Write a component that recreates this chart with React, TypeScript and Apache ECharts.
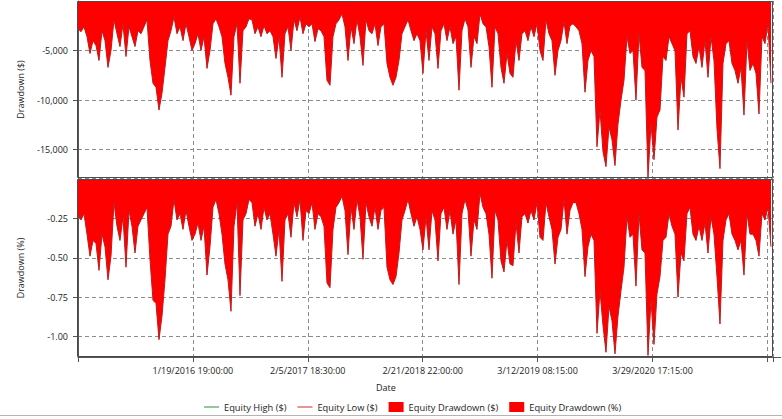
import React, { useEffect, useRef } from "react";
import * as echarts from "echarts";

const xTickLabels = [
  "",
  "1/19/2016 19:00:00",
  "2/5/2017 18:30:00",
  "2/21/2018 22:00:00",
  "3/12/2019 08:15:00",
  "3/29/2020 17:15:00",
  "",
];

const legendNames = ["Equity High ($)", "Equity Low ($)", "Equity Drawdown ($)", "Equity Drawdown (%)"];

const equityHigh: number[] = [];
const equityLow: number[] = [];

const drawdownUsd = [
  -2800, -3100, -2600, -3600, -5300, -4000, -4500, -6000, -3000, -4000, -6700, -5000, -1900, -3300, -4600, -2300,
  -5600, -2600, -3600, -4600, -3000, -3300, -2600, -1900, -6000, -8300, -8700, -11000, -9300, -6700, -4000, -3000,
  -1600, -3300, -2600, -4000, -2300, -3600, -5000,
  -4300, -3300, -5000, -3600, -6800, -5000, -2300, -1800, -2600, -3600, -6300, -7700, -9500, -3600, -2300, -8300,
  -3000, -2600, -1800, -1900, -3300, -2600, -3600, -2500, -3300, -3000, -3600, -5800, -3600, -7700, -3300, -2600,
  -5000, -1900, -3000, -1600, -3300, -2300, -2600,
  -2300, -4100, -2800, -3000, -3600, -8000, -8500, -3600, -2300, -1900, -1300, -2600, -6000, -2600, -4300, -1900,
  -3600, -6500, -1900, -3000, -3300, -2300, -4500, -2600, -2300, -6300, -7700, -8500, -7700, -6000, -3300, -2600,
  -1900, -3000, -4000, -3300, -4000, -7300,
  -3000, -6000, -2600, -3300, -6800, -3000, -2300, -4000, -2600, -4300, -3600, -9000, -3000, -1800, -2600, -6700,
  -3600, -4300, -1300, -2300, -2600, -4600, -8700, -2600, -3300, -6700, -8300, -5300, -7300, -7700, -4000, -6000,
  -3300, -3000, -4000, -2600, -3600, -2300, -5000,
  -6000, -1900, -3300, -4000, -7500, -5000, -4000, -2100, -4300, -2500, -2300, -2600, -3000, -4300, -9200, -6000,
  -5000, -5600, -14700, -11000, -15200, -16700, -12700, -14000, -16600, -12400, -10000, -8000, -3600, -5300, -5000,
  -10000, -3300, -6700, -7000, -17800, -12400, -16000, -11700,
  -11000, -5600, -6000, -3600, -4300, -5000, -13000, -7700, -9700, -3300, -3000, -5600, -6300, -4600, -6700, -4000,
  -7700, -3600, -6000, -12900, -16900, -6300, -4300, -4000, -6300, -7000, -8300, -6700, -11500, -4000, -7000, -6300,
  -7300, -11400, -3600, -4300, -2300, -8300,
];

const drawdownPct = [
  -0.23, -0.26, -0.22, -0.35, -0.49, -0.39, -0.41, -0.58, -0.35, -0.43, -0.64, -0.49, -0.15, -0.3, -0.39, -0.24,
  -0.56, -0.2, -0.3, -0.47, -0.3, -0.26, -0.22, -0.18, -0.51, -0.77, -0.79, -1.02, -0.87, -0.64, -0.35, -0.3,
  -0.13, -0.26, -0.22, -0.32, -0.2, -0.3, -0.39,
  -0.35, -0.28, -0.39, -0.3, -0.61, -0.43, -0.18, -0.13, -0.22, -0.35, -0.54, -0.64, -0.84, -0.3, -0.15, -0.74,
  -0.26, -0.22, -0.13, -0.15, -0.3, -0.22, -0.32, -0.18, -0.26, -0.22, -0.35, -0.49, -0.32, -0.65, -0.26, -0.22,
  -0.37, -0.15, -0.24, -0.13, -0.39, -0.2, -0.22,
  -0.15, -0.32, -0.22, -0.24, -0.3, -0.66, -0.69, -0.32, -0.18, -0.15, -0.11, -0.2, -0.48, -0.18, -0.32, -0.13,
  -0.24, -0.51, -0.15, -0.24, -0.3, -0.18, -0.32, -0.2, -0.18, -0.56, -0.64, -0.67, -0.62, -0.47, -0.26, -0.2,
  -0.13, -0.22, -0.3, -0.24, -0.32, -0.45,
  -0.24, -0.45, -0.2, -0.26, -0.52, -0.22, -0.18, -0.32, -0.2, -0.35, -0.26, -0.67, -0.22, -0.13, -0.2, -0.49,
  -0.26, -0.32, -0.09, -0.18, -0.22, -0.35, -0.63, -0.2, -0.26, -0.52, -0.59, -0.39, -0.54, -0.55, -0.28, -0.47,
  -0.24, -0.22, -0.28, -0.2, -0.26, -0.15, -0.37,
  -0.39, -0.15, -0.24, -0.32, -0.54, -0.37, -0.32, -0.13, -0.35, -0.2, -0.15, -0.15, -0.22, -0.32, -0.62, -0.43,
  -0.35, -0.39, -0.98, -0.71, -0.93, -1.1, -0.81, -0.9, -1.11, -0.87, -0.71, -0.56, -0.24, -0.37, -0.35, -0.68,
  -0.22, -0.45, -0.47, -1.12, -0.77, -1.05, -0.73,
  -0.62, -0.39, -0.37, -0.22, -0.3, -0.35, -0.75, -0.47, -0.52, -0.22, -0.18, -0.35, -0.39, -0.3, -0.39, -0.28,
  -0.47, -0.24, -0.35, -0.62, -0.92, -0.39, -0.26, -0.22, -0.35, -0.39, -0.45, -0.39, -0.61, -0.22, -0.35, -0.35,
  -0.39, -0.49, -0.22, -0.26, -0.18, -0.43,
];

const TICK_STEP = 38.3;
const X_MAX = 231.67;

const FONT = "'Open Sans', 'Noto Sans', sans-serif";
const TEXT = "#222";
const AXIS = "#555";
const LINE_ICON = "path://M0,0H15V1H0Z";

export default function App() {
  const ref = useRef<HTMLDivElement>(null);

  useEffect(() => {
    if (!ref.current) return;
    const chart = echarts.init(ref.current, undefined, { renderer: "svg" });

    const split = { show: true, lineStyle: { color: "#8c8c8c", type: [4, 3], width: 1 } };
    const xLabel = (v: number) => {
      const k = Math.round(v / TICK_STEP);
      return Math.abs(v - k * TICK_STEP) < 0.01 ? xTickLabels[k] ?? "" : "";
    };
    const xBase = {
      type: "value" as const,
      min: 0,
      max: X_MAX,
      interval: TICK_STEP,
      splitLine: split,
    };

    const L = 78, R = 9;
    const W = 782 - L - R;

    chart.setOption({
      animation: false,
      backgroundColor: "#fff",
      textStyle: { fontFamily: FONT },
      grid: [
        { left: L, right: R, top: 1, height: 177 },
        { left: L, right: R, top: 179, height: 178 },
      ],
      xAxis: [
        {
          ...xBase,
          gridIndex: 0,
          axisLine: { show: false },
          axisTick: { show: false },
          axisLabel: { show: false },
        },
        {
          ...xBase,
          gridIndex: 1,
          axisLine: { show: true, onZero: false, lineStyle: { color: AXIS } },
          axisTick: { show: true, length: 5, lineStyle: { color: AXIS } },
          axisLabel: { margin: 9, fontSize: 9, color: TEXT, fontFamily: FONT, formatter: xLabel },
        },
      ],
      yAxis: [
        {
          gridIndex: 0,
          type: "value",
          min: -17850,
          max: 0,
          splitNumber: 4,
          minInterval: 5000,
          maxInterval: 5000,
          name: "Drawdown ($)",
          nameLocation: "middle",
          nameGap: 53,
          nameTextStyle: { fontSize: 9, color: TEXT, fontFamily: FONT },
          axisLine: { show: true, lineStyle: { color: AXIS } },
          axisTick: { show: true, length: 5, lineStyle: { color: AXIS } },
          axisLabel: {
            margin: 10,
            fontSize: 9,
            color: TEXT,
            fontFamily: FONT,
            showMinLabel: false,
            showMaxLabel: false,
            formatter: (v: number) => (v === 0 ? "" : v.toLocaleString("en-US")),
          },
          splitLine: split,
        },
        {
          gridIndex: 1,
          type: "value",
          min: -1.13,
          max: 0,
          splitNumber: 4,
          minInterval: 0.25,
          maxInterval: 0.25,
          name: "Drawdown (%)",
          nameLocation: "middle",
          nameGap: 53,
          nameTextStyle: { fontSize: 9, color: TEXT, fontFamily: FONT },
          axisLine: { show: true, lineStyle: { color: AXIS } },
          axisTick: { show: true, length: 5, lineStyle: { color: AXIS } },
          axisLabel: {
            margin: 10,
            fontSize: 9,
            color: TEXT,
            fontFamily: FONT,
            showMinLabel: false,
            showMaxLabel: false,
            formatter: (v: number) => (v === 0 ? "" : v.toFixed(2)),
          },
          splitLine: split,
        },
      ],
      legend: {
        left: 199,
        top: 397,
        itemWidth: 15,
        itemHeight: 10,
        itemGap: 11,
        textStyle: { fontSize: 9.3, color: TEXT, fontFamily: FONT },
        data: [
          { name: legendNames[0], icon: LINE_ICON },
          { name: legendNames[1], icon: LINE_ICON },
          { name: legendNames[2], icon: "rect" },
          { name: legendNames[3], icon: "rect" },
        ],
      },
      series: [
        {
          name: legendNames[0],
          type: "line",
          xAxisIndex: 0,
          yAxisIndex: 0,
          symbol: "none",
          data: equityHigh,
          itemStyle: { color: "#2f8f2f" },
          lineStyle: { color: "#2f8f2f", width: 1 },
        },
        {
          name: legendNames[1],
          type: "line",
          xAxisIndex: 0,
          yAxisIndex: 0,
          symbol: "none",
          data: equityLow,
          itemStyle: { color: "#d02828" },
          lineStyle: { color: "#d02828", width: 1 },
        },
        {
          name: legendNames[2],
          type: "line",
          xAxisIndex: 0,
          yAxisIndex: 0,
          symbol: "none",
          data: drawdownUsd.map((v, i) => [i, v]),
          itemStyle: { color: "#ff0000" },
          lineStyle: { color: "#c01a1a", width: 1 },
          areaStyle: { color: "#ff0000", opacity: 1 },
        },
        {
          name: legendNames[3],
          type: "line",
          xAxisIndex: 1,
          yAxisIndex: 1,
          symbol: "none",
          data: drawdownPct.map((v, i) => [i, v]),
          itemStyle: { color: "#ff0000" },
          lineStyle: { color: "#c01a1a", width: 1 },
          areaStyle: { color: "#ff0000", opacity: 1 },
        },
      ],
      graphic: [
        {
          type: "rect",
          z: 100,
          silent: true,
          shape: { x: L - 0.5, y: 1.5, width: W, height: 176 },
          style: { fill: "none", stroke: "#4a4a4a", lineWidth: 1 },
        },
        {
          type: "rect",
          z: 100,
          silent: true,
          shape: { x: L - 0.5, y: 179.5, width: W, height: 177 },
          style: { fill: "none", stroke: "#4a4a4a", lineWidth: 1 },
        },
        {
          type: "line",
          z: 100,
          silent: true,
          shape: { x1: L + W, y1: 357.5, x2: 781, y2: 357.5 },
          style: { stroke: AXIS, lineWidth: 1 },
        },
        {
          type: "text",
          left: 376,
          top: 383,
          style: { text: "Date", fontSize: 9, fill: TEXT, fontFamily: FONT },
        },
        {
          type: "rect",
          silent: true,
          shape: { x: 0, y: 415, width: 782, height: 1 },
          style: { fill: "#b4b4b4" },
        },
      ],
    });

    return () => chart.dispose();
  }, []);

  return (
    <div
      ref={ref}
      style={{ position: "fixed", left: 0, top: 0, width: 782, height: 419, background: "#fff" }}
    />
  );
}
